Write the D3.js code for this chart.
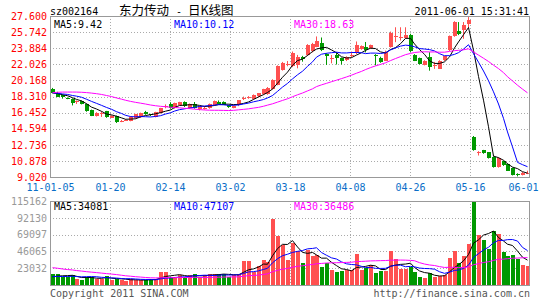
<meta charset="utf-8">
<html>
<head>
<style>
  body { margin: 0; background: #fff; }
  text { font-family: "DejaVu Sans Mono", monospace; font-size: 10px; }
</style>
</head>
<body>
<div id="chart"></div>
<script src="https://d3js.org/d3.v7.min.js"></script>
<script>
// daily candles, 11-01-05 .. 11-06-01
var opens = [19.18,18.76,18.45,18.15,18.02,17.60,17.80,17.45,16.78,16.05,
  16.35,16.62,15.88,16.05,15.45,15.55,15.50,15.80,15.90,16.50,
  16.27,15.93,16.39,17.10,17.40,16.97,17.36,17.67,16.97,17.44,
  16.78,16.95,16.97,17.30,17.70,17.69,17.30,17.00,17.25,17.95,
  18.15,18.00,18.27,18.54,18.60,19.16,19.63,21.37,22.00,21.75,
  21.95,22.92,23.11,23.50,24.08,24.47,23.19,22.70,23.11,22.72,
  22.50,23.05,23.30,23.80,24.00,23.90,23.05,22.76,22.45,24.00,
  25.20,25.10,25.04,25.35,23.11,22.72,21.95,22.84,21.90,21.56,
  22.45,23.61,25.28,25.86,26.05,26.59,13.66,11.75,12.11,11.88,
  11.34,10.18,10.83,10.57,10.06,9.40,9.25,9.40];
var highs = [19.30,18.85,18.55,18.20,18.10,17.85,17.85,17.50,16.80,16.50,
  16.60,16.65,16.15,16.10,15.60,15.70,16.05,16.30,16.45,16.65,
  16.30,16.55,17.00,17.40,17.65,17.60,17.70,17.75,17.50,17.67,
  17.20,17.20,17.50,17.85,17.85,17.75,17.35,17.30,17.90,18.30,
  18.35,18.55,18.70,19.20,19.40,20.30,21.90,22.30,22.40,23.50,
  23.11,23.00,24.35,24.50,25.24,25.12,23.30,23.10,23.42,22.80,
  22.95,23.50,24.66,24.20,24.60,24.30,23.20,22.90,23.60,25.80,
  26.30,26.30,26.30,25.55,23.20,22.80,22.50,23.42,22.30,22.50,
  23.00,25.35,27.00,26.90,26.90,27.48,13.75,12.00,12.15,11.90,
  11.40,11.30,10.90,10.60,10.10,9.45,9.60,9.75];
var lows = [18.68,18.30,18.06,18.00,17.28,17.45,17.40,16.55,16.05,16.00,
  15.95,15.85,15.85,15.25,15.35,15.50,15.45,15.75,15.85,16.20,
  16.05,15.90,16.35,16.95,16.90,16.90,17.30,17.10,16.90,16.90,
  16.70,16.80,16.90,17.25,17.40,17.35,17.00,16.95,17.20,17.90,
  18.05,17.95,18.20,18.50,18.50,19.10,19.60,21.30,21.80,21.70,
  21.56,22.33,23.00,23.40,24.00,23.55,21.95,22.14,22.00,22.00,
  22.40,22.80,23.20,23.70,23.40,23.80,21.90,22.20,22.40,23.95,
  24.58,24.77,25.00,23.45,22.40,22.00,21.90,21.29,21.50,21.50,
  22.40,23.55,25.20,25.40,24.97,26.20,12.05,11.50,11.70,11.15,
  10.10,10.10,10.30,9.75,9.20,9.09,9.20,9.35];
var closes = [18.72,18.33,18.21,18.05,17.55,17.75,17.45,16.60,16.08,16.45,
  16.42,15.90,16.10,15.30,15.50,15.62,16.00,16.27,16.40,16.27,
  16.12,16.50,16.97,17.20,16.97,17.55,17.67,17.17,17.44,16.97,
  17.17,17.00,17.44,17.77,17.50,17.38,17.05,17.19,17.85,18.10,
  18.20,18.50,18.66,19.16,19.32,20.20,21.83,22.14,22.10,23.30,
  22.92,22.64,24.27,24.35,24.74,23.61,22.92,22.80,22.72,22.41,
  22.90,23.15,24.27,24.10,23.70,24.20,22.95,22.34,23.50,25.66,
  25.30,25.20,25.43,23.50,22.45,22.06,22.45,21.68,22.00,22.45,
  22.95,25.28,26.90,25.47,26.59,27.10,12.11,11.85,11.80,11.22,
  10.18,11.22,10.33,9.80,9.29,9.30,9.45,9.50];
var volumes = [15400,15400,11300,11300,13100,8600,6800,11300,11300,8600,
  7700,12200,6800,8600,6800,5900,7700,6800,6800,6800,
  7700,8600,17700,17700,11300,11300,13100,11300,13100,14500,
  11300,13100,15400,15400,15400,15400,11300,13100,14500,32600,
  32600,17700,25800,34900,31300,90700,66600,55300,34000,57600,
  47200,29500,48500,40400,40800,24900,29500,20000,17700,19000,
  20000,20400,43100,20400,23600,28100,15900,19000,19000,47000,
  35000,21300,21300,24900,17700,11300,10000,16800,11300,12200,
  13100,37200,46200,29500,39400,56700,115162,68900,62000,50000,
  74000,70000,45700,40000,41000,36000,28000,25500];

// sessions before 11-01-05 (estimated), only feed the moving averages
var prevCloses = [17.2,17.5,17.9,17.6,17.8,18.1,17.7,17.8,18.6,19.0,
  19.5,19.8,20.1,19.7,19.4,19.9,19.6,19.2,19.3,19.5,
  19.1,18.9,18.6,18.8,18.5,18.7,18.9,18.6,18.7];
var prevVolumes = [38000,42000,35000,30000,33000,28000,36000,31000,27000,29000,
  32000,26000,30000,34000,28000,25000,27000,22000,24000,20000,
  14000,12000,11000,10000,12000,11000,9000,10000,11000];

var priceTicks = [27.600,25.742,23.884,22.026,20.168,18.310,16.452,14.594,12.736,10.878,9.020];
var volumeTicks = [115162,92130,69097,46065,23032];
var dateLabels = ["11-01-05","01-20","02-14","03-02","03-18","04-08","04-26","05-16","06-01"];
var maPeriods = [5, 10, 30];
var priceMaLegend = ["9.42","10.12","18.63"];
var volumeMaLegend = ["34081","47107","36486"];
var maColors = ["#000000","#0000ff","#ff00ff"];

var upColor = "#ff5050", downColor = "#009900";

var svg = d3.select("#chart")
  .append("svg")
    .attr("width", 545)
    .attr("height", 300);

var left = 50, right = 530;
var pTop = 16, pBottom = 177, vTop = 201, vBottom = 285;

var x = d3.scaleBand().domain(d3.range(closes.length)).range([left, right]);
var bw = x.bandwidth();
var gridX = d3.scaleLinear().domain([0, dateLabels.length - 1]).range([left, right]);
var yPrice = d3.scaleLinear().domain([9.02, 27.6]).range([pBottom, pTop]);
var yVol = d3.scaleLinear().domain([0, 115162]).range([vBottom, vTop]);

function mid(i) { return Math.floor(x(i) + bw / 2); }

function movingAverage(prev, values, n) {
  var all = prev.concat(values);
  return values.map(function(d, i) {
    var end = i + prev.length + 1;
    return d3.mean(all.slice(end - n, end));
  });
}

// grid lines
function drawGrid(y, ticks, top, bottom) {
  var g = svg.append("g")
    .attr("stroke", "#aaaaaa")
    .attr("stroke-dasharray", "1,2");
  g.selectAll(".h").data(ticks).enter().append("line")
    .attr("x1", left).attr("x2", right)
    .attr("y1", function(d) { return Math.round(y(d)) + 0.5; })
    .attr("y2", function(d) { return Math.round(y(d)) + 0.5; });
  g.selectAll(".v").data(d3.range(1, dateLabels.length - 1)).enter().append("line")
    .attr("x1", function(d) { return Math.round(gridX(d)) + 0.5; })
    .attr("x2", function(d) { return Math.round(gridX(d)) + 0.5; })
    .attr("y1", top).attr("y2", bottom);
}
drawGrid(yPrice, priceTicks.slice(1, -1), pTop, pBottom);
drawGrid(yVol, volumeTicks.slice(1), vTop, vBottom);

// candles
var candles = svg.append("g");
closes.forEach(function(c, i) {
  var o = opens[i];
  var col = c >= o ? upColor : downColor;
  candles.append("line")
    .attr("x1", mid(i) + 0.5).attr("x2", mid(i) + 0.5)
    .attr("y1", yPrice(highs[i])).attr("y2", yPrice(lows[i]))
    .attr("stroke", col);
  var top = yPrice(Math.max(o, c)), bot = yPrice(Math.min(o, c));
  candles.append("rect")
    .attr("x", mid(i) - 1).attr("width", 4)
    .attr("y", Math.round(top)).attr("height", Math.max(1, Math.round(bot - top)))
    .attr("fill", col);
});

// volume bars
svg.append("g").selectAll("rect").data(volumes).enter().append("rect")
  .attr("x", function(d, i) { return mid(i) - 1; })
  .attr("width", 4)
  .attr("y", function(d) { return Math.round(yVol(d)); })
  .attr("height", function(d) { return vBottom - Math.round(yVol(d)); })
  .attr("fill", function(d, i) { return closes[i] >= opens[i] ? upColor : downColor; });

// moving averages
maPeriods.forEach(function(n, k) {
  var pm = movingAverage(prevCloses, closes, n);
  var vm = movingAverage(prevVolumes, volumes, n);
  svg.append("path").datum(pm)
    .attr("fill", "none").attr("stroke", maColors[k]).attr("stroke-width", 1)
    .attr("d", d3.line().x(function(d, i) { return mid(i) + 0.5; }).y(function(d) { return yPrice(d); }));
  svg.append("path").datum(vm)
    .attr("fill", "none").attr("stroke", maColors[k]).attr("stroke-width", 1)
    .attr("d", d3.line().x(function(d, i) { return mid(i) + 0.5; }).y(function(d) { return yVol(d); }));
  svg.append("text").attr("x", 54 + k * 120).attr("y", 28)
    .attr("fill", maColors[k]).text("MA" + n + ":" + priceMaLegend[k]);
  svg.append("text").attr("x", 54 + k * 120).attr("y", 210)
    .attr("fill", maColors[k]).text("MA" + n + ":" + volumeMaLegend[k]);
});

// frames
svg.append("rect").attr("x", left + 0.5).attr("y", pTop + 0.5)
  .attr("width", right - left - 1).attr("height", pBottom - pTop)
  .attr("fill", "none").attr("stroke", "#999999");
svg.append("rect").attr("x", left + 0.5).attr("y", vTop + 0.5)
  .attr("width", right - left - 1).attr("height", vBottom - vTop)
  .attr("fill", "none").attr("stroke", "#999999");

// axes
var pAxis = svg.append("g")
  .attr("transform", "translate(" + (left - 3) + ",0)")
  .call(d3.axisLeft(yPrice).tickValues(priceTicks).tickFormat(d3.format(".3f")).tickSize(0).tickPadding(0));
pAxis.selectAll("text").attr("fill", "#ff0000").attr("font-family", "DejaVu Sans Mono").attr("font-size", 10);

var vAxis = svg.append("g")
  .attr("transform", "translate(" + (left - 3) + ",0)")
  .call(d3.axisLeft(yVol).tickValues(volumeTicks).tickFormat(d3.format("d")).tickSize(0).tickPadding(0));
vAxis.selectAll("text").attr("fill", "#999999").attr("font-family", "DejaVu Sans Mono").attr("font-size", 10);

var xAxis = svg.append("g")
  .attr("transform", "translate(0," + (pBottom + 7) + ")")
  .call(d3.axisBottom(gridX).tickValues(d3.range(dateLabels.length))
    .tickFormat(function(i) { return dateLabels[i]; }).tickSize(0).tickPadding(0));
xAxis.selectAll("text").attr("fill", "#0a6ec8").attr("font-family", "DejaVu Sans Mono").attr("font-size", 10);
xAxis.selectAll("text").filter(function(d) { return d === dateLabels.length - 1; }).attr("dx", -7);

[pAxis, vAxis, xAxis].forEach(function(a) { a.select(".domain").remove(); });

// header and footer
svg.append("text").attr("x", 50).attr("y", 15).attr("fill", "#000").text("sz002164");
svg.append("text").attr("x", 119).attr("y", 15).attr("fill", "#000")
  .style("font-family", "'Noto Sans CJK SC'").style("font-size", "12.5px").text("东力传动");
svg.append("text").attr("x", 176).attr("y", 15).attr("fill", "#000").text("-");
svg.append("text").attr("x", 188).attr("y", 15).attr("fill", "#000")
  .style("font-family", "'Noto Sans CJK SC'").style("font-size", "12.5px").text("日K线图");
svg.append("text").attr("x", 529).attr("y", 15).attr("text-anchor", "end").attr("fill", "#000")
  .text("2011-06-01 15:31:41");
svg.append("text").attr("x", 50).attr("y", 297).attr("fill", "#555").text("Copyright 2011 SINA.COM");
svg.append("text").attr("x", 530).attr("y", 297).attr("text-anchor", "end").attr("fill", "#555")
  .text("http://finance.sina.com.cn");
</script>
</body>
</html>
